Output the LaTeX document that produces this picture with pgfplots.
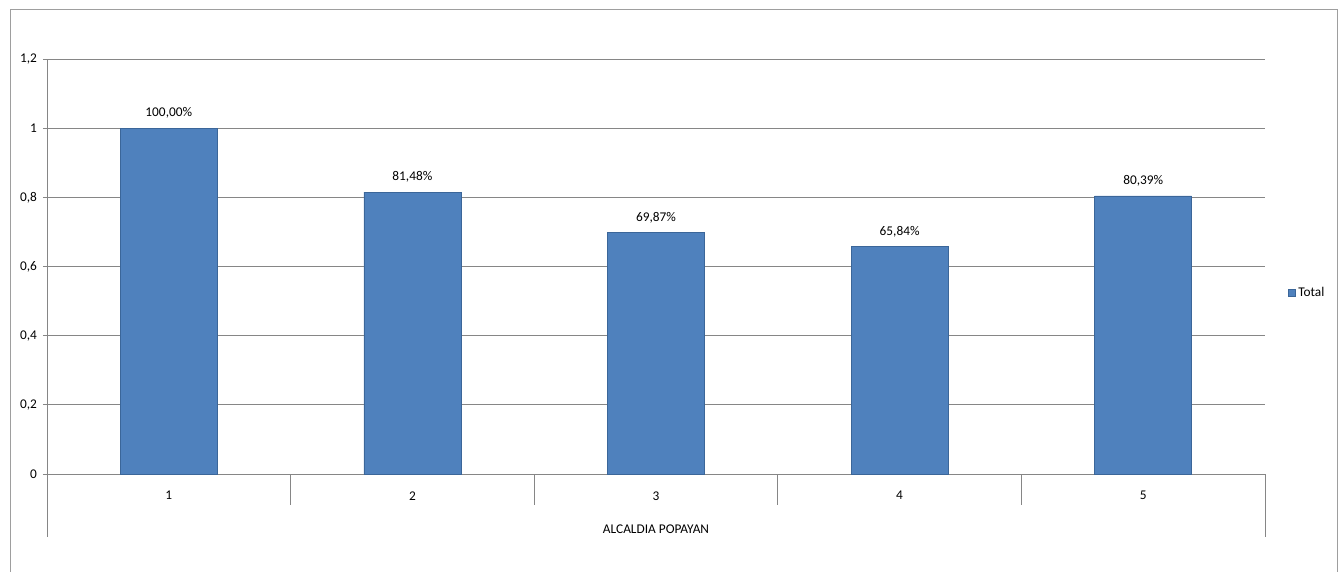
\documentclass[border=0pt]{standalone}
\usepackage{pgfplots}
\pgfplotsset{compat=1.18}
\usepackage{fontspec}
\setmainfont{Carlito}
\definecolor{barblue}{HTML}{4F81BD}
\definecolor{baredge}{HTML}{3B6699}
\definecolor{gridgray}{HTML}{868686}
\begin{document}
\fontsize{10pt}{12pt}\selectfont
\begin{tikzpicture}
\useasboundingbox (0,0) rectangle (1005.75pt,428.25pt);
\begin{scope}
\clip (0,0) rectangle (1005.75pt,428.25pt);
\draw[gridgray!80, line width=0.7pt] (7.5pt,-4pt) -- (7.5pt,421.5pt) -- (1002.75pt,421.5pt) -- (1002.75pt,-4pt);
\end{scope}
\begin{axis}[
  at={(35.25pt,72.75pt)}, anchor=south west,
  scale only axis,
  width=913.5pt, height=311.25pt,
  ymin=0, ymax=1.2,
  xmin=0.5, xmax=5.5,
  ytick={0,0.2,0.4,0.6,0.8,1,1.2},
  yticklabels={0,{0,2},{0,4},{0,6},{0,8},1,{1,2}},
  xtick={1,2,3,4,5},
  xticklabels={1,2,3,4,5},
  axis line style={gridgray, line width=0.7pt},
  axis x line*=bottom,
  axis y line*=left,
  ymajorgrids,
  grid style={gridgray, line width=0.7pt},
  major tick length=3pt,
  ytick style={gridgray, line width=0.7pt},
  xtick style={draw=none},
  tick align=outside,
  ticklabel style={font=\fontsize{10pt}{12pt}\selectfont},
  /pgf/number format/assume math mode=true,
  yticklabel style={xshift=-1pt},
  xticklabel style={yshift=-6.5pt},
  xlabel={ALCALDIA POPAYAN},
  xlabel style={font=\fontsize{10pt}{12pt}\selectfont, yshift=-11.5pt},
  clip=false,
  legend style={at={(rel axis cs:1.019,0.436)}, anchor=west, draw=none, fill=none,
    font=\fontsize{10pt}{12pt}\selectfont, inner sep=0pt},
  legend image code/.code={\draw[fill=barblue, draw=baredge, line width=0.4pt] (0pt,-2.5pt) rectangle (5pt,2.5pt);},
  legend cell align=left,
]
\addplot[ybar, bar width=72.75pt, fill=barblue, draw=baredge, line width=0.6pt,
  point meta={y*100},
  nodes near coords={\pgfmathprintnumber[fixed,precision=2,zerofill,use comma]{\pgfplotspointmeta}\%},
  nodes near coords style={font=\fontsize{10pt}{12pt}\selectfont, yshift=3.5pt, text=black},
] coordinates {(1,1.0000) (2,0.8148) (3,0.6987) (4,0.6584) (5,0.8039)};
\addlegendentry{Total}
% category separators below the axis
\draw[gridgray, line width=0.7pt] (axis cs:0.5,0) -- ([yshift=-47.25pt]axis cs:0.5,0);
\draw[gridgray, line width=0.7pt] (axis cs:5.5,0) -- ([yshift=-47.25pt]axis cs:5.5,0);
\draw[gridgray, line width=0.7pt] (axis cs:1.5,0) -- ([yshift=-23.25pt]axis cs:1.5,0);
\draw[gridgray, line width=0.7pt] (axis cs:2.5,0) -- ([yshift=-23.25pt]axis cs:2.5,0);
\draw[gridgray, line width=0.7pt] (axis cs:3.5,0) -- ([yshift=-23.25pt]axis cs:3.5,0);
\draw[gridgray, line width=0.7pt] (axis cs:4.5,0) -- ([yshift=-23.25pt]axis cs:4.5,0);
\end{axis}
\end{tikzpicture}
\end{document}
